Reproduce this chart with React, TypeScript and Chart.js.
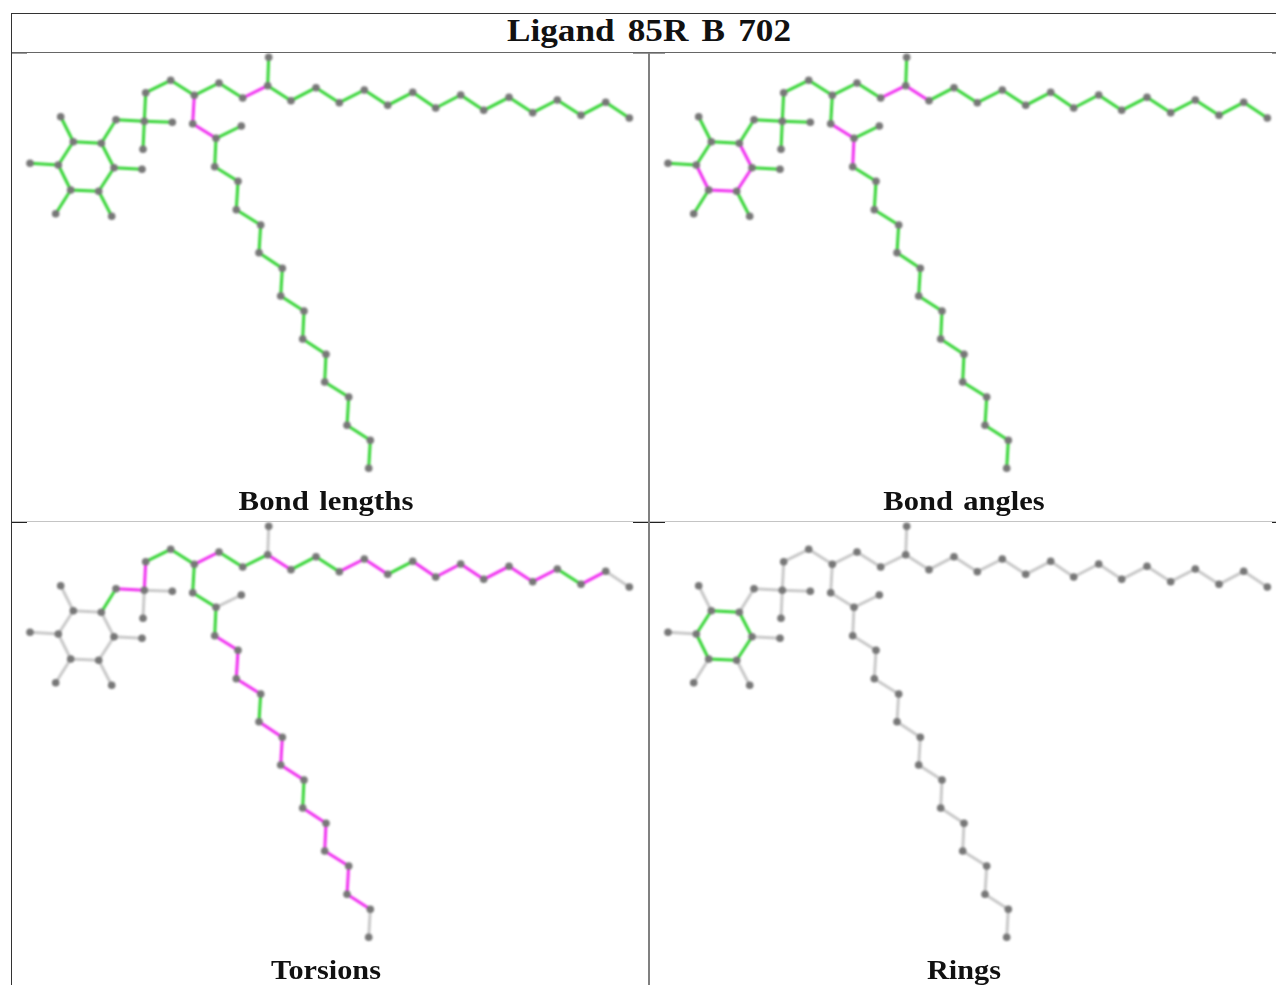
import React, { useEffect, useRef } from "react";
import { Chart, registerables } from "chart.js";

Chart.register(...registerables);

const tableTitle = "Ligand 85R B 702";

const atomX = [
  73.3, 101.3, 114, 98.7, 70.7, 58.3, 60.7, 30, 55.7, 111.7, 142, 116, 144.3, 172.3, 143, 145.7, 170.7, 194.3, 192.7,
  216, 241.3, 214.7, 238, 236.3, 260.7, 259, 282.3, 280.7, 304, 302.7, 326, 324.7, 348.7, 347, 370.3, 368.7, 219,
  242.7, 267.7, 268.7, 291, 316, 339.3, 364.3, 387.7, 412.7, 435.7, 460.7, 483.7, 509, 532.7, 557.3, 581, 605.7, 629.3,
];
const atomY = [
  141.7, 143.3, 167.7, 191.3, 190, 165, 116.7, 163.3, 213.7, 216.3, 169.3, 119.7, 121.3, 122.3, 149.3, 92.7, 80.3,
  95.3, 123.7, 138.3, 126, 166.7, 181.3, 209.7, 225, 252.7, 268.3, 296, 311, 339, 354.3, 382, 397, 425.3, 440.3, 468.3,
  83, 98, 85.7, 57.3, 100.7, 87.7, 102.7, 90, 105.3, 92.3, 108, 95, 110.3, 97.3, 112.7, 100, 115.3, 102.3, 118,
];

const ringBonds = ["0-1", "1-2", "2-3", "3-4", "4-5", "5-0"];
const hydrogenBonds = ["0-6", "5-7", "4-8", "3-9", "2-10", "1-11"];
const lowerChainBonds = [
  "11-12", "12-13", "12-14", "12-15", "15-16", "16-17", "17-18", "18-19", "19-20", "19-21", "21-22", "22-23", "23-24",
  "24-25", "25-26", "26-27", "27-28", "28-29", "29-30", "30-31", "31-32", "32-33", "33-34", "34-35",
];
const upperChainBonds = [
  "17-36", "36-37", "37-38", "38-39", "38-40", "40-41", "41-42", "42-43", "43-44", "44-45", "45-46", "46-47", "47-48",
  "48-49", "49-50", "50-51", "51-52", "52-53", "53-54",
];
const allBonds = [...ringBonds, ...hydrogenBonds, ...lowerChainBonds, ...upperChainBonds];

const lengthOutliers = ["17-18", "18-19", "37-38"];
const lengthUnassessed: string[] = [];

const angleOutliers = ["1-2", "2-3", "3-4", "4-5", "18-19", "19-21", "37-38", "38-40"];
const angleUnassessed: string[] = [];

const torsionOutliers = [
  "11-12", "12-15", "17-36", "38-40", "21-22", "22-23", "23-24", "25-26", "26-27", "27-28", "29-30", "30-31", "31-32",
  "32-33", "33-34", "42-43", "43-44", "45-46", "46-47", "47-48", "48-49", "49-50", "50-51", "52-53",
];
const torsionUnassessed = [
  ...ringBonds, "0-6", "5-7", "4-8", "3-9", "2-10", "12-13", "12-14", "19-20", "38-39", "34-35", "53-54",
];

const ringOutliers: string[] = [];
const ringUnassessed = allBonds.filter((b) => !ringBonds.includes(b));

const GREEN = "#33d433";
const MAGENTA = "#f02cf0";
const GREY = "#c8c8c8";
const ATOM = "#777777";

function bondColor(b: string, outliers: string[], unassessed: string[]) {
  if (outliers.includes(b)) return MAGENTA;
  if (unassessed.includes(b)) return GREY;
  return GREEN;
}

type PanelProps = {
  left: number;
  top: number;
  width: number;
  height: number;
  xMin: number;
  yMin: number;
  outliers: string[];
  unassessed: string[];
};

function Panel({ left, top, width, height, xMin, yMin, outliers, unassessed }: PanelProps) {
  const ref = useRef<HTMLCanvasElement>(null);
  useEffect(() => {
    const points = atomX.map((x, i) => ({ x, y: atomY[i] }));
    const bondSets = allBonds.map((b) => {
      const [p, q] = b.split("-").map(Number);
      return {
        type: "scatter" as const,
        data: [points[p], points[q]],
        showLine: true,
        borderColor: bondColor(b, outliers, unassessed),
        borderWidth: 3,
        pointRadius: 0,
        order: 2,
      };
    });
    const chart = new Chart(ref.current!, {
      type: "scatter",
      data: {
        datasets: [
          {
            data: points,
            showLine: false,
            pointRadius: 3.8,
            pointBackgroundColor: ATOM,
            pointBorderWidth: 0,
            order: 1,
          } as any,
          ...bondSets,
        ],
      },
      options: {
        animation: false,
        responsive: false,
        layout: { padding: 0, autoPadding: false },
        plugins: { legend: { display: false }, title: { display: false }, tooltip: { enabled: false } },
        scales: {
          x: { type: "linear", display: false, min: xMin, max: xMin + width },
          y: { type: "linear", display: false, reverse: true, min: yMin, max: yMin + height },
        },
      },
    });
    return () => chart.destroy();
  }, []);
  return (
    <canvas
      ref={ref}
      width={width}
      height={height}
      style={{ position: "absolute", left, top, width, height, display: "block", filter: "blur(0.8px)" }}
    />
  );
}

function Rule({ x, y, w, h, c }: { x: number; y: number; w: number; h: number; c: string }) {
  return <div style={{ position: "absolute", left: x, top: y, width: w, height: h, background: c }} />;
}

function Caption({ text, cx, base, size, sx, ws }: { text: string; cx: number; base: number; size: number; sx: number; ws: number }) {
  return (
    <div
      style={{
        position: "absolute",
        left: cx - 300,
        width: 600,
        top: base - size,
        height: size * 1.2,
        lineHeight: `${size * 1.2}px`,
        textAlign: "center",
        whiteSpace: "nowrap",
        fontFamily: "'Liberation Serif', serif",
        fontWeight: "bold",
        fontSize: size,
        color: "#111",
        wordSpacing: ws,
        transform: `scaleX(${sx})`,
      }}
    >
      {text}
    </div>
  );
}

export default function App() {
  return (
    <div style={{ position: "fixed", left: 0, top: 0, width: 1276, height: 985, overflow: "hidden", background: "#fff" }}>
      <Panel left={12} top={53} width={636} height={468} xMin={12} yMin={53} outliers={lengthOutliers} unassessed={lengthUnassessed} />
      <Panel left={650} top={53} width={626} height={468} xMin={12} yMin={53} outliers={angleOutliers} unassessed={angleUnassessed} />
      <Panel left={12} top={522} width={636} height={463} xMin={12} yMin={53} outliers={torsionOutliers} unassessed={torsionUnassessed} />
      <Panel left={650} top={522} width={626} height={463} xMin={12} yMin={53} outliers={ringOutliers} unassessed={ringUnassessed} />

      <Rule x={11} y={13} w={1265} h={1} c="#333" />
      <Rule x={11} y={13} w={1} h={972} c="#333" />
      <Rule x={12} y={52} w={1264} h={1} c="#666" />
      <Rule x={12} y={53} w={15} h={1} c="#999" />
      <Rule x={633} y={53} w={32} h={1} c="#999" />
      <Rule x={1272} y={53} w={4} h={1} c="#999" />
      <Rule x={12} y={521} w={1264} h={1} c="#c4c4c4" />
      <Rule x={12} y={522} w={15} h={1} c="#222" />
      <Rule x={633} y={522} w={32} h={1} c="#222" />
      <Rule x={1272} y={522} w={4} h={1} c="#222" />
      <Rule x={648} y={53} w={2} h={932} c="#808080" />

      <Caption text={tableTitle} cx={649} base={43} size={32} sx={1.1} ws={4} />
      <Caption text="Bond lengths" cx={325.5} base={512} size={28} sx={1.1} ws={2.5} />
      <Caption text="Bond angles" cx={963.5} base={512} size={28} sx={1.09} ws={2.5} />
      <Caption text="Torsions" cx={326} base={981} size={28} sx={1.08} ws={2.5} />
      <Caption text="Rings" cx={963.5} base={981} size={28} sx={1.08} ws={2.5} />
    </div>
  );
}
